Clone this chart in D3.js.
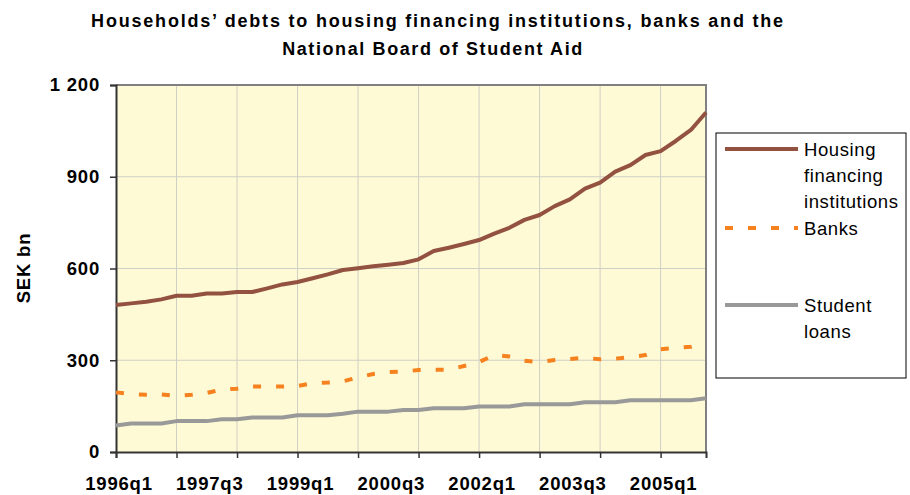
<!DOCTYPE html>
<html>
<head>
<meta charset="utf-8">
<script src="https://cdn.jsdelivr.net/npm/d3@7"></script>
<style>
  body { margin: 0; background: #fff; }
  svg { font-family: Arial, "Liberation Sans", sans-serif; }
</style>
</head>
<body>
<script>
const quarters = [
  "1996q1","1996q2","1996q3","1996q4","1997q1","1997q2","1997q3","1997q4",
  "1998q1","1998q2","1998q3","1998q4","1999q1","1999q2","1999q3","1999q4",
  "2000q1","2000q2","2000q3","2000q4","2001q1","2001q2","2001q3","2001q4",
  "2002q1","2002q2","2002q3","2002q4","2003q1","2003q2","2003q3","2003q4",
  "2004q1","2004q2","2004q3","2004q4","2005q1","2005q2","2005q3","2005q4"
]
const housing = [481,486,491,499,511,511,518,518,523,523,535,548,556,568,581,595,601,607,612,618,
                 630,657,668,680,693,714,733,759,775,804,826,861,881,917,938,971,984,1017,1053,1110]
const banks = [195,189,187,188,183,187,193,204,207,214,214,214,216,225,227,231,244,255,261,263,
               268,269,269,281,294,317,312,298,294,301,304,308,303,305,310,317,336,341,344,357]
const student = [87,93,93,93,101,101,101,107,107,113,113,113,120,120,120,125,132,132,132,137,
                 137,143,143,143,149,149,149,156,156,156,156,163,163,163,169,169,169,169,169,176]
const xLabels = ["1996q1","1997q3","1999q1","2000q3","2002q1","2003q3","2005q1"]
const xTicks = ["1996q1","1997q1","1998q1","1999q1","2000q1","2001q1","2002q1","2003q1","2004q1","2005q1"]
const yTicks = [0,300,600,900,1200]

const width = 910, height = 495
const m = {left: 116, top: 85, right: 706, bottom: 452}

const svg = d3.select('body').append('svg')
    .attr('width', width)
    .attr('height', height)

const x = d3.scalePoint().domain(quarters).range([m.left, m.right])
const y = d3.scaleLinear().domain([0, 1200]).range([m.bottom, m.top])

// title
svg.append('text')
    .attr('x', 438).attr('y', 27)
    .attr('text-anchor', 'middle')
    .attr('font-weight', 'bold').attr('font-size', 18)
    .attr('letter-spacing', 1.8)
    .text('Households\u2019 debts to housing financing institutions, banks and the')
svg.append('text')
    .attr('x', 433).attr('y', 55)
    .attr('text-anchor', 'middle')
    .attr('font-weight', 'bold').attr('font-size', 18)
    .attr('letter-spacing', 1.6)
    .text('National Board of Student Aid')

// plot background
svg.append('rect')
    .attr('x', m.left).attr('y', m.top)
    .attr('width', m.right - m.left).attr('height', m.bottom - m.top)
    .attr('fill', '#fffad6')

// grid
svg.append('g').selectAll('line')
    .data(yTicks.slice(1, -1))
    .join('line')
    .attr('x1', m.left).attr('x2', m.right)
    .attr('y1', d => y(d)).attr('y2', d => y(d))
    .attr('stroke', '#cfcfc4').attr('stroke-width', 1)
svg.append('g').selectAll('line')
    .data(xTicks.slice(1))
    .join('line')
    .attr('x1', d => x(d)).attr('x2', d => x(d))
    .attr('y1', m.top).attr('y2', m.bottom)
    .attr('stroke', '#cfcfc4').attr('stroke-width', 1)

// frame top/right
svg.append('path')
    .attr('d', `M${m.left},${m.top}H${m.right}V${m.bottom}`)
    .attr('fill', 'none').attr('stroke', '#808080').attr('stroke-width', 2)

// y axis
const yAxis = svg.append('g')
    .attr('transform', `translate(${m.left},0)`)
    .call(d3.axisLeft(y).tickValues(yTicks).tickSize(6).tickPadding(10)
        .tickFormat(d => d3.format(',')(d).replace(',', ' ')))
yAxis.select('.domain').attr('stroke', '#333').attr('stroke-width', 2)
yAxis.selectAll('.tick line').attr('stroke', '#333').attr('stroke-width', 1.5)
yAxis.selectAll('text').attr('font-size', 18.5).attr('font-weight', 'bold')
    .attr('letter-spacing', 0.8).attr('fill', '#000')

// x axis
const xAxis = svg.append('g')
    .attr('transform', `translate(0,${m.bottom})`)
    .call(d3.axisBottom(x).tickValues(xTicks).tickSize(6).tickFormat(''))
xAxis.select('.domain').attr('stroke', '#333').attr('stroke-width', 2)
xAxis.selectAll('.tick line').attr('stroke', '#333').attr('stroke-width', 1.5)

svg.append('g').selectAll('text')
    .data(xLabels)
    .join('text')
    .attr('x', d => x(d) + 3).attr('y', 490)
    .attr('text-anchor', 'middle')
    .attr('font-size', 18.5).attr('font-weight', 'bold')
    .attr('letter-spacing', 0.8)
    .text(d => d)

// y title
svg.append('text')
    .attr('transform', 'translate(30,268) rotate(-90)')
    .attr('text-anchor', 'middle')
    .attr('font-size', 18.5).attr('font-weight', 'bold')
    .attr('letter-spacing', 0.8)
    .text('SEK bn')

// series
const series = [
  {name: 'housing', values: housing, color: '#93523f', dash: null},
  {name: 'banks', values: banks, color: '#f5821f', dash: '8,15'},
  {name: 'student', values: student, color: '#999999', dash: null}
]

const line = d3.line()
    .x((d, i) => x(quarters[i]))
    .y(d => y(d))

svg.append('g').selectAll('path')
    .data(series)
    .join('path')
    .attr('d', d => line(d.values))
    .attr('fill', 'none')
    .attr('stroke', d => d.color)
    .attr('stroke-width', 4)
    .attr('stroke-dasharray', d => d.dash)
    .attr('stroke-linejoin', 'round')

// legend
const lg = svg.append('g')
lg.append('rect')
    .attr('x', 716).attr('y', 133).attr('width', 190).attr('height', 245)
    .attr('fill', '#fff').attr('stroke', '#000').attr('stroke-width', 1)

const legendItems = [
  {s: series[0], ly: 149, lines: ['Housing', 'financing', 'institutions']},
  {s: series[1], ly: 228, lines: ['Banks']},
  {s: series[2], ly: 305, lines: ['Student', 'loans']}
]
legendItems.forEach(it => {
  lg.append('line')
      .attr('x1', 725).attr('x2', 798)
      .attr('y1', it.ly).attr('y2', it.ly)
      .attr('stroke', it.s.color).attr('stroke-width', 4)
      .attr('stroke-dasharray', it.s.dash)
  it.lines.forEach((t, j) => {
    lg.append('text')
        .attr('x', 804).attr('y', it.ly + 7 + j * 26)
        .attr('font-size', 18.5)
        .attr('letter-spacing', 0.6)
        .text(t)
  })
})
</script>
</body>
</html>
